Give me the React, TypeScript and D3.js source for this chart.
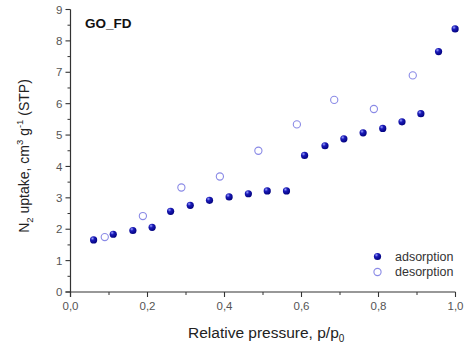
import React from "react";
import * as d3 from "d3";

const adsP = [0.060, 0.111, 0.162, 0.212, 0.260, 0.311, 0.361, 0.412, 0.462, 0.511, 0.561, 0.608, 0.661, 0.710, 0.760, 0.811, 0.861, 0.910, 0.956, 0.999];
const adsV = [1.66, 1.84, 1.96, 2.06, 2.57, 2.76, 2.92, 3.03, 3.13, 3.22, 3.22, 4.35, 4.66, 4.88, 5.07, 5.21, 5.42, 5.68, 7.66, 8.38];
const desP = [0.089, 0.188, 0.288, 0.388, 0.488, 0.588, 0.685, 0.788, 0.889];
const desV = [1.75, 2.42, 3.33, 3.68, 4.50, 5.34, 6.12, 5.83, 6.90];
const xTicks = [0, 0.2, 0.4, 0.6, 0.8, 1.0];
const xMinor = [0.1, 0.3, 0.5, 0.7, 0.9];
const yTicks = [0, 1, 2, 3, 4, 5, 6, 7, 8, 9];
const yMinor = [0.5, 1.5, 2.5, 3.5, 4.5, 5.5, 6.5, 7.5, 8.5];

export default function App() {
  const W = 470, H = 351;
  const x = d3.scaleLinear().domain([0, 1]).range([70.5, 455.5]);
  const y = d3.scaleLinear().domain([0, 9]).range([292, 9.5]);
  const fmt = (v: number) => d3.format(".1f")(v).replace(".", ",");
  const font = "'Liberation Sans', Arial, sans-serif";
  const ads = adsP.map((p, i) => [p, adsV[i]]);
  const des = desP.map((p, i) => [p, desV[i]]);
  const Filled = ({ cx, cy }: { cx: number; cy: number }) => (
    <circle cx={cx} cy={cy} r={3.6} fill="url(#ballGrad)" />
  );
  const Hollow = ({ cx, cy }: { cx: number; cy: number }) => (
    <circle cx={cx} cy={cy} r={3.6} fill="none" stroke="#8a8ae6" strokeWidth={1.1} />
  );
  return (
    <svg width={W} height={H} style={{ position: "absolute", left: 0, top: 0, background: "#fff" }} fontFamily={font}>
      <defs>
        <radialGradient id="ballGrad" cx="0.35" cy="0.3" r="0.75">
          <stop offset="0" stopColor="#9aa0ff" />
          <stop offset="0.35" stopColor="#1a1ab8" />
          <stop offset="1" stopColor="#00007a" />
        </radialGradient>
      </defs>
      <rect width={W} height={H} fill="#fff" />
      {/* axes */}
      <line x1={x(0)} x2={x(0)} y1={y(9)} y2={y(0) + 5} stroke="#333" strokeWidth={1.2} />
      <line x1={x(0) - 5} x2={x(1)} y1={y(0)} y2={y(0)} stroke="#333" strokeWidth={1.2} />
      {yTicks.map((t) => (
        <g key={"y" + t}>
          <line x1={x(0) - 5} x2={x(0)} y1={y(t)} y2={y(t)} stroke="#333" strokeWidth={1.1} />
          <text x={x(0) - 8} y={y(t)} dy="0.36em" textAnchor="end" fontSize={11.5} fill="#555">{t}</text>
        </g>
      ))}
      {yMinor.map((t) => (
        <line key={"ym" + t} x1={x(0) - 3} x2={x(0)} y1={y(t)} y2={y(t)} stroke="#333" strokeWidth={1} />
      ))}
      {xTicks.map((t) => (
        <g key={"x" + t}>
          <line x1={x(t)} x2={x(t)} y1={y(0)} y2={y(0) + 5} stroke="#333" strokeWidth={1.1} />
          <text x={x(t)} y={y(0) + 18} textAnchor="middle" fontSize={11.5} fill="#555">{fmt(t)}</text>
        </g>
      ))}
      {xMinor.map((t) => (
        <line key={"xm" + t} x1={x(t)} x2={x(t)} y1={y(0)} y2={y(0) + 3} stroke="#333" strokeWidth={1} />
      ))}
      {/* data */}
      {des.map((d, i) => <Hollow key={"d" + i} cx={x(d[0])} cy={y(d[1])} />)}
      {ads.map((d, i) => <Filled key={"a" + i} cx={x(d[0])} cy={y(d[1])} />)}
      {/* title */}
      <text x={85} y={28} fontSize={13.5} fontWeight="bold" fill="#111">GO_FD</text>
      {/* legend */}
      <Filled cx={377.5} cy={256.5} />
      <text x={395} y={260.5} fontSize={12.5} fill="#333">adsorption</text>
      <Hollow cx={377.5} cy={272} />
      <text x={395} y={276} fontSize={12.5} fill="#333">desorption</text>
      {/* axis labels */}
      <text x={188} y={338} fontSize={15.5} fill="#222">
        Relative pressure, p/p<tspan dy={4} fontSize={10}>0</tspan>
      </text>
      <text transform="translate(29,156) rotate(-90)" textAnchor="middle" fontSize={14} fill="#222">
        N<tspan dy={4} fontSize={9.5}>2</tspan>
        <tspan dy={-4}> uptake, cm</tspan>
        <tspan dy={-6} fontSize={9.5}>3</tspan>
        <tspan dy={6}> g</tspan>
        <tspan dy={-6} fontSize={9.5}>-1</tspan>
        <tspan dy={6}> (STP)</tspan>
      </text>
    </svg>
  );
}
